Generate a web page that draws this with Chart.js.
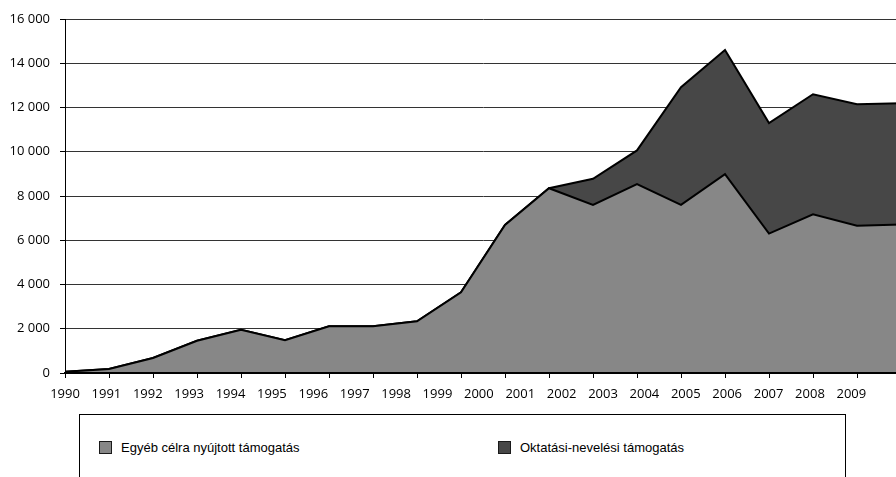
<!DOCTYPE html>
<html>
<head>
<meta charset="utf-8">
<script src="https://cdn.jsdelivr.net/npm/chart.js@4/dist/chart.umd.min.js"></script>
<style>
  html, body { margin: 0; padding: 0; background: #fff; }
  #wrap { position: relative; width: 896px; height: 477px; overflow: hidden; background: #fff; }
  #c { position: absolute; left: 0; top: 0; }
  .legend {
    position: absolute; left: 79px; top: 414px; width: 767px; height: 90px;
    border: 1px solid #000; box-sizing: border-box;
    font-family: "Liberation Sans", Arial, sans-serif; font-size: 13px; color: #000;
  }
  .item { position: absolute; top: 25px; display: flex; align-items: center; height: 14px; white-space: nowrap; }
  .sw { width: 13px; height: 13px; border: 1px solid #1a1a1a; box-sizing: border-box; margin-right: 9px; }
</style>
</head>
<body>
<div id="wrap">
  <canvas id="c" width="902" height="410"></canvas>
  <div class="legend" id="legend"></div>
</div>
<script>
// Years on the category axis
const years = ['1990','1991','1992','1993','1994','1995','1996','1997','1998','1999',
               '2000','2001','2002','2003','2004','2005','2006','2007','2008','2009'];

// Support amounts per year (stacked)
const egyebCelra = [60, 185, 680, 1460, 1950, 1480, 2110, 2110, 2340, 3650,
                    6690, 8350, 7600, 8540, 7600, 8990, 6300, 7170, 6660, 6710];
const oktatasiNevelesi = [0, 0, 0, 0, 0, 0, 0, 0, 0, 0,
                          0, 0, 1180, 1520, 5320, 5610, 5000, 5430, 5490, 5480];

const seriesNames = ['Egyéb célra nyújtott támogatás', 'Oktatási-nevelési támogatás'];
const seriesColors = ['#878787', '#474747'];

// y-axis tick values
const yTicks = [0, 2000, 4000, 6000, 8000, 10000, 12000, 14000, 16000];

const tickFont = { family: '"Open Sans", "DejaVu Sans", sans-serif', size: 13 };
const fmt = v => String(v).replace(/\B(?=(\d{3})+(?!\d))/g, ' ');

new Chart(document.getElementById('c'), {
  type: 'line',
  data: {
    labels: years,
    datasets: [
      {
        label: seriesNames[0], data: egyebCelra,
        backgroundColor: seriesColors[0], borderColor: '#000', borderWidth: 2,
        fill: 'origin', pointRadius: 0, tension: 0
      },
      {
        label: seriesNames[1], data: oktatasiNevelesi,
        backgroundColor: seriesColors[1], borderColor: '#000', borderWidth: 2,
        fill: '-1', pointRadius: 0, tension: 0
      }
    ]
  },
  options: {
    responsive: false,
    animation: false,
    devicePixelRatio: 1,
    layout: { padding: { top: 19, right: 1, bottom: 0, left: 0 } },
    plugins: { legend: { display: false }, tooltip: { enabled: false } },
    scales: {
      x: {
        type: 'category', position: 'bottom', weight: 0, offset: false,
        grid: { display: true, drawOnChartArea: false, drawTicks: true, tickLength: 5, color: '#000' },
        border: { display: true, color: '#000', width: 2, z: 1 },
        ticks: { display: false },
        afterFit: s => { s.height = 5; }
      },
      xYears: {
        type: 'linear', axis: 'x', position: 'bottom', weight: 1,
        min: 0, max: 20.2,
        grid: { display: false },
        border: { display: false },
        afterBuildTicks: s => { s.ticks = years.map((_, i) => ({ value: i })); },
        ticks: {
          autoSkip: false, maxRotation: 0, padding: 0, color: '#000', font: tickFont,
          callback: v => years[v]
        },
        afterFit: s => { s.height = 32; }
      },
      y: {
        stacked: true, min: 0, max: 16000,
        grid: { color: '#333', lineWidth: 1, tickLength: 5, tickColor: '#000' },
        border: { display: true, color: '#000', width: 1, z: 1 },
        afterBuildTicks: s => { s.ticks = yTicks.map(v => ({ value: v })); },
        ticks: { padding: 10, color: '#000', font: tickFont, callback: v => fmt(v) },
        afterFit: s => { s.width = 65; }
      }
    }
  }
});

// HTML legend under the chart
const legendEl = document.getElementById('legend');
const itemLeft = [19, 418];
seriesNames.forEach((name, i) => {
  const item = document.createElement('div');
  item.className = 'item';
  item.style.left = itemLeft[i] + 'px';
  const sw = document.createElement('span');
  sw.className = 'sw';
  sw.style.background = seriesColors[i];
  const txt = document.createElement('span');
  txt.textContent = name;
  item.appendChild(sw);
  item.appendChild(txt);
  legendEl.appendChild(item);
});
</script>
</body>
</html>
